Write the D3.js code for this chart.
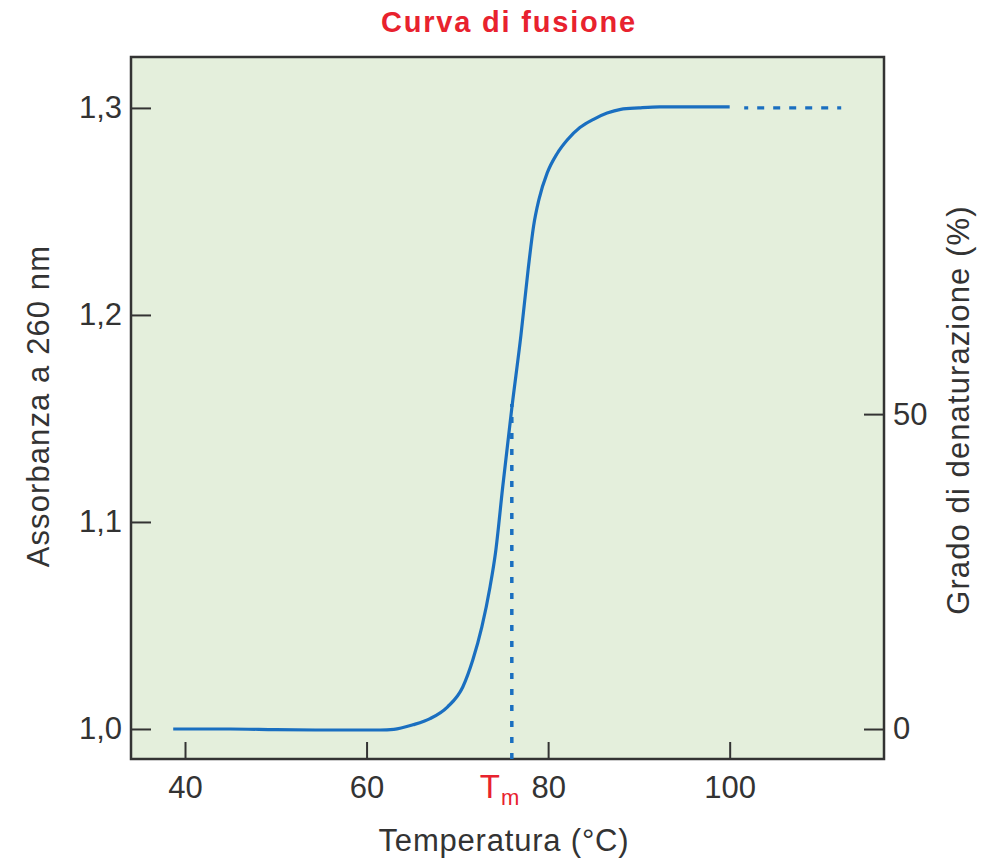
<!DOCTYPE html>
<html>
<head>
<meta charset="utf-8">
<script src="https://cdn.jsdelivr.net/npm/d3@7/dist/d3.min.js"></script>
<style>
  body { margin: 0; background: #fff; }
  svg text { font-family: "Liberation Sans", Arial, Helvetica, sans-serif; }
</style>
</head>
<body>
<svg id="chart" width="992" height="861"></svg>
<script>
// Melting curve (temperature °C, absorbance at 260 nm)
const temps = [38.7, 45, 50, 55, 60, 61.5, 63, 65.1, 67, 68.9, 70.6, 71.7, 72.7, 73.6, 74.2, 75, 76, 77, 77.8, 78.4, 79, 79.9, 81, 82.1, 83.5, 85, 86.5, 88, 90, 92.3, 96, 100];
const absorb = [1.0, 1.0, 0.9997, 0.9995, 0.9995, 0.9995, 0.9998, 1.002, 1.005, 1.0106, 1.0203, 1.0333, 1.0493, 1.0686, 1.085, 1.117, 1.155, 1.19, 1.222, 1.243, 1.256, 1.2686, 1.278, 1.2845, 1.2905, 1.2945, 1.2975, 1.2993, 1.3, 1.3005, 1.3005, 1.3005];
const extension = [101.6, 112.3];   // dashed continuation at 1,3
const plateau = 1.3;
const tm = 76;
const tmAbs = 1.157;

const xTicks = [40, 60, 80, 100];
const yTicks = [1.0, 1.1, 1.2, 1.3];
const rTicks = [0, 50];

const svg = d3.select('#chart');
const margin = { top: 57, right: 108, bottom: 102, left: 131 };
const W = 992 - margin.left - margin.right;
const H = 861 - margin.top - margin.bottom;

const x = d3.scaleLinear().domain([34.05, 117]).range([0, W]);
const y = d3.scaleLinear().domain([0.9855, 1.3246]).range([H, 0]);
const yR = d3.scaleLinear().domain([-4.76, 106.7]).range([H, 0]);

const g = svg.append('g').attr('transform', `translate(${margin.left},${margin.top})`);

g.append('rect').attr('width', W).attr('height', H).attr('fill', '#e4efdc');

const axisColor = '#333';
const fmt = d => d3.format('.1f')(d).replace('.', ',');

// Left axis (ticks inside)
const yAxis = g.append('g').call(d3.axisLeft(y).tickValues(yTicks).tickSize(-20).tickPadding(9).tickFormat(fmt));
// Right axis
const rAxis = g.append('g').attr('transform', `translate(${W},0)`)
  .call(d3.axisRight(yR).tickValues(rTicks).tickSize(-20).tickPadding(9));
// Bottom axis
const xAxis = g.append('g').attr('transform', `translate(0,${H})`)
  .call(d3.axisBottom(x).tickValues(xTicks).tickSize(-17).tickPadding(17));

[yAxis, rAxis, xAxis].forEach(a => {
  a.select('.domain').remove();
  a.selectAll('.tick line').attr('stroke', axisColor).attr('stroke-width', 2);
  a.selectAll('.tick text').attr('fill', '#333').attr('font-size', 31).style('font-family', '"Liberation Sans", Arial, sans-serif');
});

// Frame
g.append('rect').attr('width', W).attr('height', H)
  .attr('fill', 'none').attr('stroke', axisColor).attr('stroke-width', 2.5);

// Tm dashed line
g.append('line')
  .attr('x1', x(tm)).attr('x2', x(tm))
  .attr('y1', H).attr('y2', y(tmAbs))
  .attr('stroke', '#1a6fc0').attr('stroke-width', 3.5).attr('stroke-dasharray', '6 10');

// Curve
const line = d3.line().x((d, i) => x(temps[i])).y(d => y(d)).curve(d3.curveMonotoneX);
g.append('path').datum(absorb).attr('d', line)
  .attr('fill', 'none').attr('stroke', '#1a6fc0').attr('stroke-width', 3.2);

// Dashed continuation
g.append('line')
  .attr('x1', x(extension[0])).attr('x2', x(extension[1]))
  .attr('y1', y(plateau)).attr('y2', y(plateau))
  .attr('stroke', '#1a6fc0').attr('stroke-width', 3.2)
  .attr('stroke-dasharray', '4 9 7 9 7 9 7 9 7 9 7 9 4 100');

// Tm label
const tmLabel = g.append('text')
  .attr('x', x(tm) - 32).attr('y', H + 39)
  .attr('text-anchor', 'start').attr('fill', '#e8222e').attr('font-size', 33);
tmLabel.append('tspan').text('T');
tmLabel.append('tspan').attr('font-size', 22).attr('dx', 1).attr('dy', 7).text('m');

// Title
svg.append('text')
  .attr('x', 509).attr('y', 32)
  .attr('text-anchor', 'middle').attr('fill', '#e8222e')
  .attr('font-size', 29).attr('font-weight', 700).attr('letter-spacing', '1.8px')
  .text('Curva di fusione');

// Axis titles
svg.append('text')
  .attr('x', 504).attr('y', 851)
  .attr('text-anchor', 'middle').attr('fill', '#333').attr('font-size', 31).attr('letter-spacing', '0.8px')
  .text('Temperatura (°C)');

svg.append('text')
  .attr('transform', `translate(49,${margin.top + yR(50) - 8}) rotate(-90)`)
  .attr('text-anchor', 'middle').attr('fill', '#333').attr('font-size', 31).attr('letter-spacing', '1.1px')
  .text('Assorbanza a 260 nm');

svg.append('text')
  .attr('transform', `translate(969,${margin.top + yR(50) - 4}) rotate(-90)`)
  .attr('text-anchor', 'middle').attr('fill', '#333').attr('font-size', 31).attr('letter-spacing', '1.1px')
  .text('Grado di denaturazione (%)');
</script>
</body>
</html>
